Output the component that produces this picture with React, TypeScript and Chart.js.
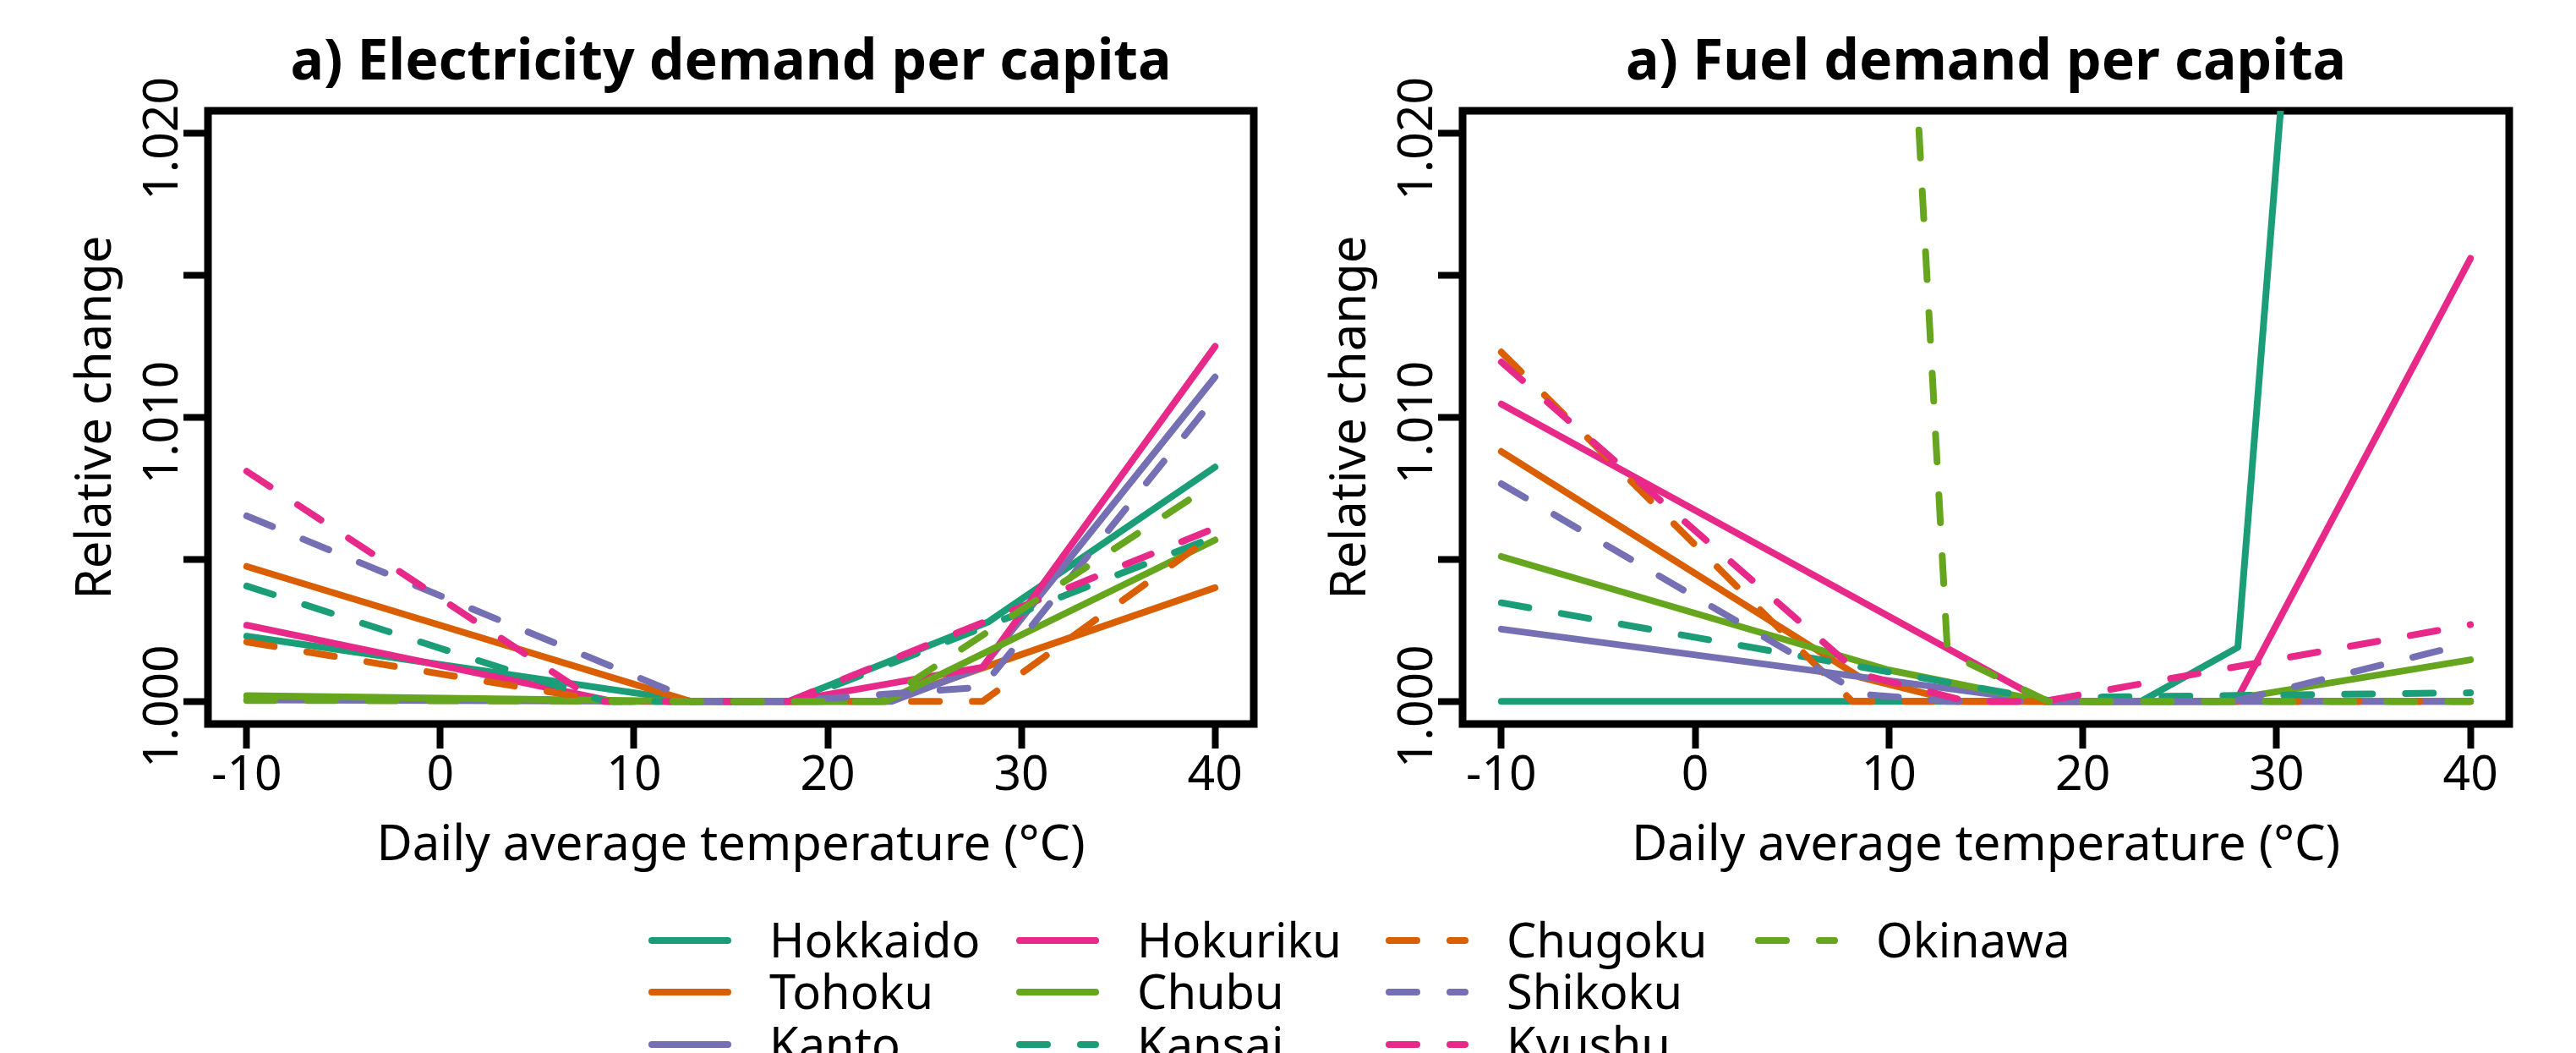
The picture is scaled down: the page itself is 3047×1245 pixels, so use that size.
import React, { useEffect, useRef } from 'react';
import { Chart, registerables } from 'chart.js';

Chart.register(...registerables);

const FONT = '"Noto Sans", "DejaVu Sans", sans-serif';

// ---------- data ----------
const regions = ['Hokkaido', 'Tohoku', 'Kanto', 'Hokuriku', 'Chubu', 'Kansai', 'Chugoku', 'Shikoku', 'Kyushu', 'Okinawa'];
const regionColors = ['#1B9E77', '#D95F02', '#7570B3', '#E7298A', '#66A61E', '#1B9E77', '#D95F02', '#7570B3', '#E7298A', '#66A61E'];
const regionDashed = [false, false, false, false, false, true, true, true, true, true];

const xTicks = [-10, 0, 10, 20, 30, 40];
const yTicks = [1.0, 1.005, 1.01, 1.015, 1.02];
const yTickLabels = ['1.000', '', '1.010', '', '1.020'];
const xLimits = [-12, 42];
const yLimits = [0.9992, 1.0208];

const panelTitles = ['a) Electricity demand per capita', 'a) Fuel demand per capita'];
const xTitle = 'Daily average temperature (\u00B0C)';
const yTitle = 'Relative change';

// Electricity demand per capita: [temperature, relative change]
const elecHokkaido = [[-10, 1.00229], [13, 1.0], [18, 1.0], [28.3, 1.0028], [40, 1.00825]];
const elecTohoku = [[-10, 1.00475], [12.9, 1.0], [23, 1.0], [40, 1.004]];
const elecKanto = [[-10, 1.00005], [13, 1.0], [23.3, 1.0], [28, 1.0012], [40, 1.01142]];
const elecHokuriku = [[-10, 1.00268], [8.9, 1.0], [18, 1.0], [28, 1.0012], [40, 1.0125]];
const elecChubu = [[-10, 1.0002], [13, 1.0], [23, 1.0], [40, 1.00568]];
const elecKansai = [[-10, 1.00406], [8.5, 1.0], [18.3, 1.0], [40, 1.0058]];
const elecChugoku = [[-10, 1.00209], [8.6, 1.0], [28, 1.0], [40, 1.0059]];
const elecShikoku = [[-10, 1.00653], [13.2, 1.0], [18, 1.0], [28, 1.0005], [40, 1.0107]];
const elecKyushu = [[-10, 1.0081], [8.1, 1.0], [18, 1.0], [40, 1.0061]];
const elecOkinawa = [[-10, 1.00003], [13, 1.0], [22.8, 1.0], [40, 1.0077]];

// Fuel demand per capita: [temperature, relative change]
const fuelHokkaido = [[-10, 1.0], [23, 1.0], [28, 1.0019], [40, 1.105]];
const fuelTohoku = [[-10, 1.0088], [8.5, 1.00085], [13.5, 1.0], [40, 1.0]];
const fuelKanto = [[-10, 1.00254], [18, 1.0], [40, 1.0]];
const fuelHokuriku = [[-10, 1.01047], [18, 1.0], [27.9, 1.0], [40, 1.0156]];
const fuelChubu = [[-10, 1.0051], [10, 1.0011], [18, 1.0], [27, 1.0], [40, 1.00146]];
const fuelKansai = [[-10, 1.00347], [18.5, 1.0], [21, 1.00015], [40, 1.0003]];
const fuelChugoku = [[-10, 1.0123], [8.1, 1.0], [40, 1.0]];
const fuelShikoku = [[-10, 1.00766], [8.6, 1.00025], [13, 1.0], [27.8, 1.0], [40, 1.00205]];
const fuelKyushu = [[-10, 1.01195], [8.5, 1.00096], [14, 1.0], [18, 1.0], [40, 1.0027]];
const fuelOkinawa = [[10, 1.0394], [13.02, 1.0017], [18.2, 1.0], [40, 1.0]];

const elecSeries = [elecHokkaido, elecTohoku, elecKanto, elecHokuriku, elecChubu, elecKansai, elecChugoku, elecShikoku, elecKyushu, elecOkinawa];
const fuelSeries = [fuelHokkaido, fuelTohoku, fuelKanto, fuelHokuriku, fuelChubu, fuelKansai, fuelChugoku, fuelShikoku, fuelKyushu, fuelOkinawa];

// ---------- layout ----------
const W = 3047;
const H = 1245;
const CANVAS_H = 1060;
const AXIS_W = 246; // distance from canvas left to plot box
const TOP_H = 131; // plot box top
const BOTTOM_H = CANVAS_H - 856; // plot box bottom at 856
const LINE_W = 8;
const DASH = [33, 39];

const legendColX = [767, 1202, 1639, 2076];
const legendRowY = [1112, 1173, 1235];

Chart.defaults.font.family = FONT;
Chart.defaults.color = '#000';

const framePlugin = {
  id: 'rframe',
  beforeDatasetsDraw(chart: any) {
    const { ctx, chartArea: a } = chart;
    ctx.save();
    ctx.strokeStyle = '#000';
    ctx.lineWidth = 9;
    ctx.lineJoin = 'miter';
    ctx.strokeRect(a.left, a.top, a.right - a.left, a.bottom - a.top);
    ctx.restore();
  },
  afterDraw(chart: any) {
    const { ctx, chartArea: a } = chart;
    const ys = chart.scales.y;
    ctx.save();
    ctx.font = `57px ${FONT}`;
    ctx.fillStyle = '#000';
    ctx.textAlign = 'center';
    ctx.textBaseline = 'alphabetic';
    ys.ticks.forEach((t: any, i: number) => {
      const label = yTickLabels[i];
      if (!label) return;
      const py = ys.getPixelForValue(t.value);
      ctx.save();
      ctx.translate(a.left - 36, py + 6);
      ctx.rotate(-Math.PI / 2);
      ctx.fillText(label, 0, 0);
      ctx.restore();
    });
    ctx.restore();
  },
};

function makeConfig(series: number[][][], title: string, padRight: number): any {
  const datasets = series.map((pts, i) => ({
    label: regions[i],
    data: pts.map(([x, y]) => ({ x, y })),
    borderColor: regionColors[i],
    backgroundColor: regionColors[i],
    borderWidth: LINE_W,
    borderDash: regionDashed[i] ? DASH : [],
    borderCapStyle: 'round',
    borderJoinStyle: 'round',
    pointRadius: 0,
    pointHoverRadius: 0,
    tension: 0,
    fill: false,
    order: regions.length - i,
  }));
  const tickGrid = {
    display: true,
    drawOnChartArea: false,
    drawTicks: true,
    tickLength: 29,
    tickWidth: 8,
    tickColor: '#000',
  };
  return {
    type: 'line',
    data: { datasets },
    options: {
      responsive: false,
      animation: false,
      devicePixelRatio: 1,
      events: [],
      layout: { padding: { left: 0, top: 0, right: padRight, bottom: 0 } },
      plugins: {
        legend: { display: false },
        tooltip: { enabled: false },
        title: { display: false },
      },
      scales: {
        x: {
          type: 'linear',
          position: 'bottom',
          min: xLimits[0],
          max: xLimits[1],
          afterBuildTicks: (s: any) => {
            s.ticks = xTicks.map((v) => ({ value: v }));
          },
          afterFit: (s: any) => {
            s.height = BOTTOM_H;
          },
          grid: tickGrid,
          border: { display: false },
          ticks: {
            color: '#000',
            font: { size: 57, family: FONT },
            padding: -1,
            maxRotation: 0,
            minRotation: 0,
            autoSkip: false,
            callback: (v: any) => String(v),
          },
          title: {
            display: true,
            text: xTitle,
            color: '#000',
            font: { size: 58, family: FONT },
            padding: { top: 0, bottom: 25 },
          },
        },
        y: {
          type: 'linear',
          position: 'left',
          min: yLimits[0],
          max: yLimits[1],
          afterBuildTicks: (s: any) => {
            s.ticks = yTicks.map((v) => ({ value: v }));
          },
          afterFit: (s: any) => {
            s.width = AXIS_W;
          },
          grid: tickGrid,
          border: { display: false },
          ticks: { display: false },
          title: {
            display: true,
            text: yTitle,
            color: '#000',
            font: { size: 58, family: FONT },
            padding: { top: 80, bottom: 0 },
          },
        },
        x2: {
          type: 'linear',
          position: 'top',
          min: xLimits[0],
          max: xLimits[1],
          grid: { display: false },
          border: { display: false },
          ticks: { display: false },
          afterFit: (s: any) => {
            s.height = TOP_H;
          },
          title: {
            display: true,
            text: title,
            color: '#000',
            font: { size: 66, weight: 'bold', family: FONT },
            padding: { top: 36, bottom: 0 },
          },
        },
        y2: {
          type: 'linear',
          position: 'right',
          min: yLimits[0],
          max: yLimits[1],
          grid: { display: false },
          border: { display: false },
          ticks: { display: false },
          afterFit: (s: any) => {
            s.width = 0;
          },
        },
      },
    },
    plugins: [framePlugin],
  };
}

function Panel(props: { left: number; width: number; padRight: number; series: number[][][]; title: string }) {
  const ref = useRef<HTMLCanvasElement>(null);
  useEffect(() => {
    const chart = new Chart(ref.current as HTMLCanvasElement, makeConfig(props.series, props.title, props.padRight));
    return () => chart.destroy();
  }, []);
  return (
    <canvas
      ref={ref}
      width={props.width}
      height={CANVAS_H}
      style={{ position: 'absolute', left: props.left, top: 0, width: props.width, height: CANVAS_H }}
    />
  );
}

function Legend() {
  return (
    <svg width={W} height={H} style={{ position: 'absolute', left: 0, top: 0, pointerEvents: 'none' }}>
      {regions.map((name, i) => {
        const col = Math.floor(i / 3);
        const row = i % 3;
        const x0 = legendColX[col];
        const y = legendRowY[row];
        return (
          <g key={name}>
            <line
              x1={x0 + 4}
              y1={y}
              x2={x0 + 94}
              y2={y}
              stroke={regionColors[i]}
              strokeWidth={LINE_W}
              strokeLinecap="round"
              strokeDasharray={regionDashed[i] ? DASH.join(' ') : undefined}
            />
            <text x={x0 + 143} y={y + 20} fontFamily={FONT} fontSize={56} fill="#000">
              {name}
            </text>
          </g>
        );
      })}
    </svg>
  );
}

export default function App() {
  const leftW = 1523;
  const rightLeft = 1730 - AXIS_W; // 1484
  const rightW = W - rightLeft;
  return (
    <div style={{ position: 'absolute', left: 0, top: 0, width: W, height: H, overflow: 'hidden', background: '#fff' }}>
      <Panel left={0} width={leftW} padRight={leftW - 1483} series={elecSeries} title={panelTitles[0]} />
      <Panel left={rightLeft} width={rightW} padRight={rightW - (2968 - rightLeft)} series={fuelSeries} title={panelTitles[1]} />
      <Legend />
    </div>
  );
}
